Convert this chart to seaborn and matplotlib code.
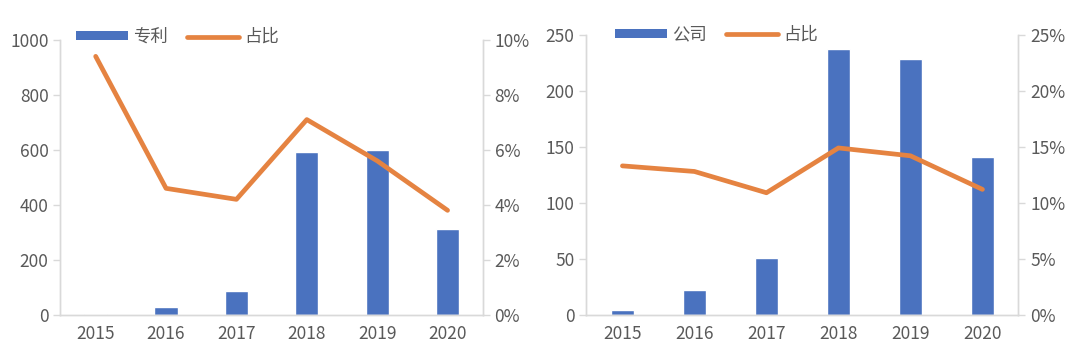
import numpy as np
import matplotlib
matplotlib.use("Agg")
import matplotlib.pyplot as plt
import seaborn as sns
from matplotlib.patches import Patch
from matplotlib.lines import Line2D
from matplotlib.ticker import FuncFormatter

# data
years = ['2015', '2016', '2017', '2018', '2019', '2020']
patents = [3, 27, 88, 592, 601, 312]
patent_share = [0.094, 0.046, 0.042, 0.071, 0.056, 0.038]
companies = [4, 22, 51, 237, 228, 141]
company_share = [0.133, 0.128, 0.109, 0.149, 0.142, 0.112]

BLUE = '#4a72bf'
ORANGE = '#e58341'
GREY = '#595959'
SPINE = '#d9d9d9'

sns.set_style('white')
plt.rcParams['font.family'] = ['Noto Sans CJK SC', 'DejaVu Sans']
plt.rcParams['font.size'] = 12


def draw_panel(fig, rect, counts, share, bar_label, ymax, ystep, pmax, pstep, legpos):
    ax = fig.add_axes(rect)
    sns.barplot(x=years, y=counts, color=BLUE, width=0.33, saturation=1, ax=ax)
    ax2 = ax.twinx()
    sns.pointplot(x=years, y=share, color=ORANGE, markers='', linewidth=3.4, ax=ax2)

    ax.set_ylim(0, ymax)
    ax.set_yticks(np.arange(0, ymax + 1, ystep))
    ax2.set_ylim(0, pmax)
    ax2.set_yticks(np.arange(0, pmax + 1e-9, pstep))
    ax2.yaxis.set_major_formatter(FuncFormatter(lambda v, p: f'{v*100:.0f}%'))
    ax.set_xlim(-0.5, len(years) - 0.5)

    for a in (ax, ax2):
        a.spines['top'].set_visible(False)
        for side in ('left', 'right', 'bottom'):
            a.spines[side].set_color(SPINE)
            a.spines[side].set_linewidth(1)
        a.tick_params(colors=GREY, labelsize=12.5)
        a.tick_params(axis='y', length=5, color=SPINE, width=1, direction='out')
        a.tick_params(axis='x', length=0, pad=7)
        a.set_xlabel('')
        a.set_ylabel('')
        a.grid(False)

    handles = [Patch(facecolor=BLUE, edgecolor='none'),
               Line2D([], [], color=ORANGE, lw=3.4, solid_capstyle='round')]
    ax.legend(handles, [bar_label, '占比'], ncol=2, frameon=False,
              loc='center left', bbox_to_anchor=legpos, handlelength=3.0,
              handleheight=0.42, columnspacing=1.1, handletextpad=0.3,
              labelcolor=GREY, fontsize=12.5)
    return ax, ax2


fig = plt.figure(figsize=(10.8, 3.59), dpi=100)
draw_panel(fig, [0.056, 0.123, 0.391, 0.766], patents, patent_share, '专利',
           1000, 200, 0.10, 0.02, (0.0, 1.01))
draw_panel(fig, [0.543, 0.123, 0.400, 0.780], companies, company_share, '公司',
           250, 50, 0.25, 0.05, (0.03, 1.0))

fig.savefig('out.png', dpi=100, facecolor='white')
